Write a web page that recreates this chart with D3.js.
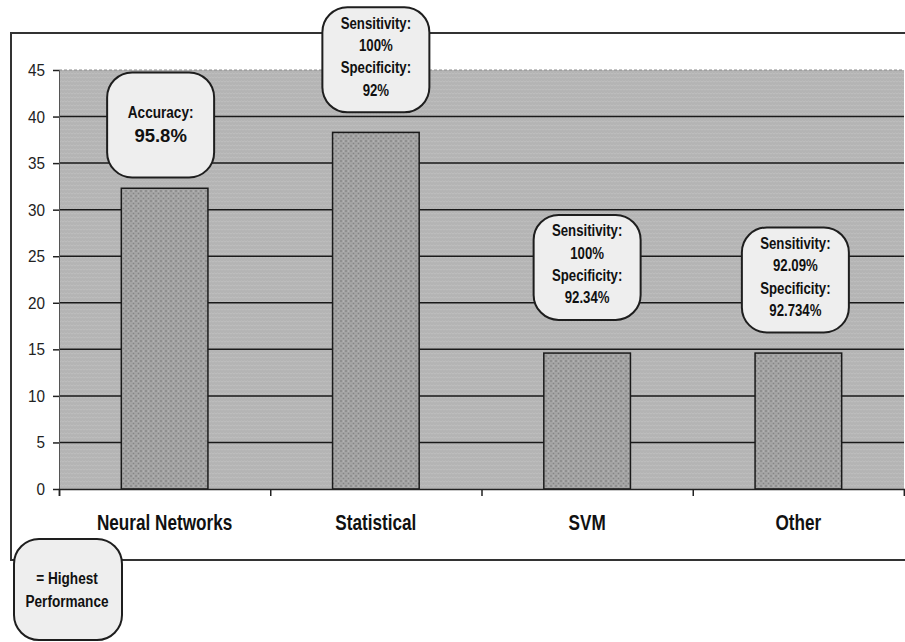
<!DOCTYPE html>
<html><head><meta charset="utf-8">
<script src="https://cdn.jsdelivr.net/npm/d3@7"></script>
<style>
body{margin:0;background:#fff;}
svg{display:block;}
</style></head>
<body><svg id="c" width="905" height="642"></svg>
<script>
const categories = ["Neural Networks", "Statistical", "SVM", "Other"];
const values = [32.3, 38.3, 14.6, 14.6];
const yTicks = [0, 5, 10, 15, 20, 25, 30, 35, 40, 45];
const calloutLines = [
  ["Accuracy:", "95.8%"],
  ["Sensitivity:", "100%", "Specificity:", "92%"],
  ["Sensitivity:", "100%", "Specificity:", "92.34%"],
  ["Sensitivity:", "92.09%", "Specificity:", "92.734%"]
];
const calloutCenterValue = [39.1, 46.1, 23.8, 22.45];
const calloutShift = [-4, 0, 0, -3];
const legendLines = ["= Highest", "Performance"];

const svg = d3.select("#c");
const FONT = "'Liberation Sans',Arial,sans-serif";
const NARROW = 0.8;
const margin = {left: 59, right: 1, top: 70, bottom: 153};
const W = 905, H = 642;

const x = d3.scaleBand().domain(categories)
  .range([margin.left, W - margin.right])
  .paddingInner(0.59).paddingOuter(0.295);
const y = d3.scaleLinear().domain([0, 45]).range([H - margin.bottom, margin.top]);

function ntext(g, tx, ty, str, size, weight, sx, anchor) {
  return g.append("text")
    .attr("transform", `translate(${tx},${ty}) scale(${sx},1)`)
    .attr("text-anchor", anchor || "middle")
    .attr("font-family", FONT).attr("font-weight", weight)
    .attr("font-size", size).attr("fill", "#111").text(str);
}

// patterns
const defs = svg.append("defs");
const bgP = defs.append("pattern").attr("id", "bgp").attr("patternUnits", "userSpaceOnUse")
  .attr("width", 6).attr("height", 4);
bgP.append("rect").attr("width", 6).attr("height", 4).attr("fill", "#b4b4b4");
bgP.append("path").attr("d", "M0,2 L1.5,1 L3,2 L4.5,1 L6,2").attr("stroke", "#c3c3c3").attr("stroke-width", 0.7).attr("fill", "none");
const barP = defs.append("pattern").attr("id", "barp").attr("patternUnits", "userSpaceOnUse")
  .attr("width", 5).attr("height", 5);
barP.append("rect").attr("width", 5).attr("height", 5).attr("fill", "#a4a4a4");
barP.append("circle").attr("cx", 1).attr("cy", 1).attr("r", 0.8).attr("fill", "#777");
barP.append("circle").attr("cx", 3.5).attr("cy", 3.5).attr("r", 0.8).attr("fill", "#858585");
barP.append("circle").attr("cx", 3.5).attr("cy", 1).attr("r", 0.5).attr("fill", "#c4c4c4");

// outer frame
svg.append("rect").attr("x", 11).attr("y", 33).attr("width", 905).attr("height", 527)
  .attr("fill", "#fff").attr("stroke", "#333").attr("stroke-width", 2);

// plot background
svg.append("rect").attr("x", margin.left).attr("y", y(45))
  .attr("width", W - margin.right - margin.left).attr("height", y(0) - y(45))
  .attr("fill", "url(#bgp)");
svg.append("line").attr("x1", margin.left).attr("x2", W - margin.right)
  .attr("y1", y(45)).attr("y2", y(45))
  .attr("stroke", "#8a8a8a").attr("stroke-width", 1).attr("stroke-dasharray", "3,2");

// gridlines
svg.append("g").selectAll("line").data(yTicks.filter(d => d > 0 && d < 45)).join("line")
  .attr("x1", margin.left).attr("x2", W - margin.right)
  .attr("y1", d => y(d)).attr("y2", d => y(d))
  .attr("stroke", "#1a1a1a").attr("stroke-width", 1.5);

// bars
svg.append("g").selectAll("rect").data(categories).join("rect")
  .attr("x", d => x(d)).attr("width", x.bandwidth())
  .attr("y", (d, i) => y(values[i])).attr("height", (d, i) => y(0) - y(values[i]))
  .attr("fill", "url(#barp)").attr("stroke", "#1a1a1a").attr("stroke-width", 1.5);

// y axis
const yAxis = svg.append("g").attr("transform", `translate(${margin.left},0)`)
  .call(d3.axisLeft(y).tickValues(yTicks).tickSize(6).tickFormat(""));
yAxis.select(".domain").attr("stroke", "#555").attr("stroke-width", 1);
yAxis.selectAll(".tick line").attr("stroke", "#222").attr("stroke-width", 1.5);
const yl = svg.append("g");
yTicks.forEach(t => {
  ntext(yl, 45, y(t) + 6, String(t), 17, "normal", 0.9, "end").attr("fill", "#222");
});

// x axis
const xb = d3.scaleLinear().domain([0, categories.length]).range([margin.left, W - margin.right]);
const xAxis = svg.append("g").attr("transform", `translate(0,${y(0)})`)
  .call(d3.axisBottom(xb).tickValues(d3.range(categories.length + 1)).tickSize(7).tickFormat(""));
xAxis.select(".domain").attr("stroke", "#222").attr("stroke-width", 1.5);
xAxis.selectAll(".tick line").attr("stroke", "#222").attr("stroke-width", 1.5);

const xl = svg.append("g");
categories.forEach(c => {
  ntext(xl, x(c) + x.bandwidth() / 2, y(0) + 41, c, 22, "bold", 0.78);
});

// callouts
const bw = 107, bh = 105;
categories.forEach((c, i) => {
  const cx = x(c) + x.bandwidth() / 2 + calloutShift[i];
  const cy = y(calloutCenterValue[i]);
  const g = svg.append("g");
  g.append("rect").attr("x", cx - bw / 2).attr("y", cy - bh / 2).attr("width", bw).attr("height", bh)
    .attr("rx", 25).attr("ry", 25).attr("fill", "#eeeeee").attr("stroke", "#1e1e1e").attr("stroke-width", 2);
  const lines = calloutLines[i];
  if (lines.length === 2) {
    ntext(g, cx, cy - 7, lines[0], 17, "bold", NARROW);
    ntext(g, cx, cy + 17, lines[1], 18.5, "bold", 1);
  } else {
    lines.forEach((t, j) => {
      ntext(g, cx, cy - 31 + j * 22.3, t, 16.5, "bold", NARROW);
    });
  }
});

// legend box
const lg = svg.append("g");
lg.append("rect").attr("x", 14).attr("y", 539).attr("width", 108).attr("height", 101)
  .attr("rx", 25).attr("ry", 25).attr("fill", "#eeeeee").attr("stroke", "#1e1e1e").attr("stroke-width", 2);
legendLines.forEach((t, j) => {
  ntext(lg, 67, 584 + j * 23, t, 17, "bold", NARROW);
});
</script></body></html>
